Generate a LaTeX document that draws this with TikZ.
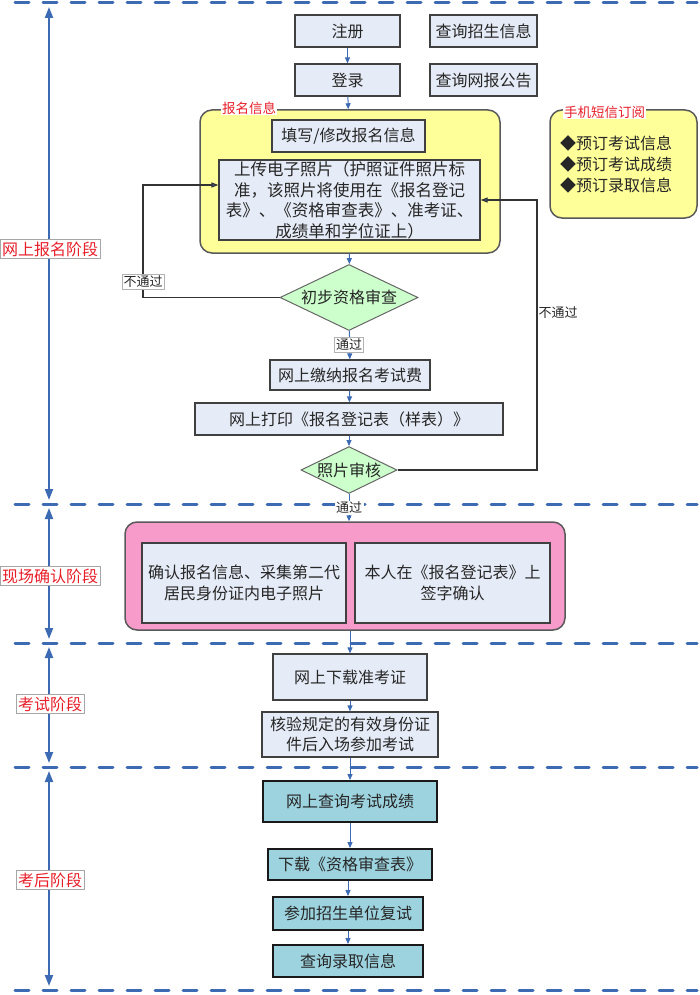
\documentclass[tikz,border=0pt]{standalone}
\usepackage{fontspec}
\setmainfont{Noto Sans CJK SC}
\usepackage{tikz}
\usetikzlibrary{shapes,shapes.geometric,arrows.meta}
\definecolor{boxfill}{HTML}{E6ECF7}
\definecolor{teal}{HTML}{9DD3DF}
\definecolor{note}{HTML}{FFFF99}
\definecolor{pinkbg}{HTML}{F79BCB}
\definecolor{okgreen}{HTML}{CCFFCC}
\definecolor{lineblue}{HTML}{3D6BB3}
\definecolor{labelred}{HTML}{E8202A}
\tikzstyle{every node}=[font=\fontsize{16}{20.5}\selectfont, text=black!85]
\tikzstyle{box}=[draw=black!75, fill=boxfill, line width=1.2pt, inner sep=0pt, align=center]
\tikzstyle{tealbox}=[box, fill=teal, draw=black!90, line width=1.8pt]
\tikzstyle{group}=[draw=black!65, line width=1.5pt, rounded corners=12pt]
\tikzstyle{check}=[diamond, draw=black!60, fill=okgreen, line width=1pt, inner sep=0pt, shape aspect=2]
\tikzstyle{flow}=[draw=lineblue, line width=1pt, -{Triangle[length=6pt,width=5pt]}]
\tikzstyle{back}=[draw=black!80, line width=1.2pt, -{Triangle[length=7pt,width=5pt,fill=lineblue]}]
\tikzstyle{phase}=[draw=lineblue, line width=3pt, line cap=round, dash pattern=on 14pt off 14pt]
\tikzstyle{stage}=[draw=lineblue, line width=2pt, {Triangle[length=11pt,width=8pt]}-{Triangle[length=11pt,width=8pt]}, shorten <=4pt, shorten >=4pt]
\tikzstyle{stagelabel}=[draw=black!35, fill=white, text=labelred, inner sep=2pt, line width=0.6pt]
\tikzstyle{tag}=[fill=white, text=labelred, inner sep=1pt, font=\fontsize{13.5}{15}\selectfont]
\tikzstyle{small}=[fill=white, inner sep=1.5pt, font=\fontsize{13}{15}\selectfont]

\begin{document}
\begin{tikzpicture}[x=1pt,y=-1pt]
\useasboundingbox (0,0) rectangle (700,995);

% phase separators
\draw[phase] (15,3) -- (697,3);
\draw[phase] (15,504) -- (697,504);
\draw[phase] (15,643) -- (697,643);
\draw[phase] (15,767) -- (697,767);
\draw[phase] (15,990) -- (697,990);

\coordinate (s0) at (49,3);
\coordinate (s1) at (49,504);
\coordinate (s2) at (49,643);
\coordinate (s3) at (49,767);
\coordinate (s4) at (49,990);

\draw[stage] (s0) -- (s1);
\draw[stage] (s1) -- (s2);
\draw[stage] (s2) -- (s3);
\draw[stage] (s3) -- (s4);

\node[stagelabel] (p1) at (50,249) {网上报名阶段};
\node[stagelabel] (p2) at (50,576) {现场确认阶段};
\node[stagelabel] (p3) at (50,704) {考试阶段};
\node[stagelabel] (p4) at (50,880) {考后阶段};

% online registration
\node[box, minimum width=105pt, minimum height=32pt] (reg) at (347.5,31) {注册};
\node[box, minimum width=107pt, minimum height=32pt] (qzs) at (483.5,31) {查询招生信息};
\node[box, minimum width=105pt, minimum height=32pt] (login) at (347.5,80) {登录};
\node[box, minimum width=107pt, minimum height=32pt] (qwb) at (483.5,80) {查询网报公告};

\node[group, fill=note, minimum width=300pt, minimum height=143pt] (info) at (350,181.5) {};
\node[tag, anchor=west] (infotag) at (221,108) {报名信息};
\node[box, minimum width=153pt, minimum height=32pt] (fill) at (348.5,136) {填写/修改报名信息};
\node[box, minimum width=261pt, minimum height=80pt, font=\fontsize{16.5}{20.5}\selectfont] (upload) at (349.5,200)
  {上传电子照片（护照证件照片标\\准，该照片将使用在《报名登记\\表》、《资格审查表》、准考证、\\成绩单和学位证上）};

\node[group, fill=note, minimum width=147pt, minimum height=108pt] (sms) at (623.5,164) {};
\node[tag, anchor=west] (smstag) at (563,112) {手机短信订阅};
\node[anchor=north west, align=left, inner sep=0pt, font=\fontsize{16}{21}\selectfont] (smslist) at (560,135)
  {◆预订考试信息\\◆预订考试成绩\\◆预订录取信息};

\node[check, minimum width=138pt, minimum height=66pt] (chk1) at (349,297.5) {初步资格审查};
\node[box, minimum width=160pt, minimum height=30pt] (pay) at (350,375) {网上缴纳报名考试费};
\node[box, minimum width=308pt, minimum height=32pt] (print) at (349,419) {网上打印《报名登记表（样表）》};
\node[check, minimum width=96pt, minimum height=44pt] (chk2) at (349,470) {照片审核};

\coordinate (lturn) at (143,185);
\coordinate (rturn) at (537,200);

\draw[flow] (reg) -- (login);
\draw[flow] (login) -- (info);
\draw[flow] (info) -- (chk1);
\draw[flow] (chk1) -- (pay);
\draw[flow] (pay) -- (print);
\draw[flow] (print) -- (chk2);
\draw[back] (chk1.west) -| (lturn) -- ([yshift=15pt]upload.west);
\draw[back] (chk2.east) -| (rturn) -- (upload.east);

\node[small, draw=black!30] (no1) at (143,282) {不通过};
\node[small, anchor=west, fill=none] (no2) at (537,313) {不通过};
\node[small, draw=black!30] (ok1) at (349,345) {通过};

% on-site confirmation
\node[group, fill=pinkbg, minimum width=440pt, minimum height=108pt] (confirm) at (345,576) {};
\node[box, minimum width=204pt, minimum height=80pt] (site1) at (244,583) {确认报名信息、采集第二代\\居民身份证内电子照片};
\node[box, minimum width=195pt, minimum height=80pt] (site2) at (452.5,583) {本人在《报名登记表》上\\签字确认};
\draw[flow] (chk2) -- (chk2 |- confirm.north);
\node[small] (ok2) at (349,508) {通过};

% exam
\node[box, minimum width=154pt, minimum height=46pt] (ticket) at (350,677) {网上下载准考证};
\node[box, minimum width=176pt, minimum height=45pt] (verify) at (350,734.5) {核验规定的有效身份证\\件后入场参加考试};
\draw[flow] (confirm.south -| ticket) -- (ticket);
\draw[flow] (ticket) -- (verify);

% after the exam
\node[tealbox, minimum width=174pt, minimum height=41pt] (score) at (350,801.5) {网上查询考试成绩};
\node[tealbox, minimum width=164pt, minimum height=31pt] (qtable) at (350,864.5) {下载《资格审查表》};
\node[tealbox, minimum width=150pt, minimum height=33pt] (retest) at (348,913.5) {参加招生单位复试};
\node[tealbox, minimum width=150pt, minimum height=32pt] (admit) at (348,961) {查询录取信息};
\draw[flow] (verify) -- (score);
\draw[flow] (score) -- (qtable);
\draw[flow] (qtable.south -| retest) -- (retest);
\draw[flow] (retest) -- (admit);

\end{tikzpicture}
\end{document}
